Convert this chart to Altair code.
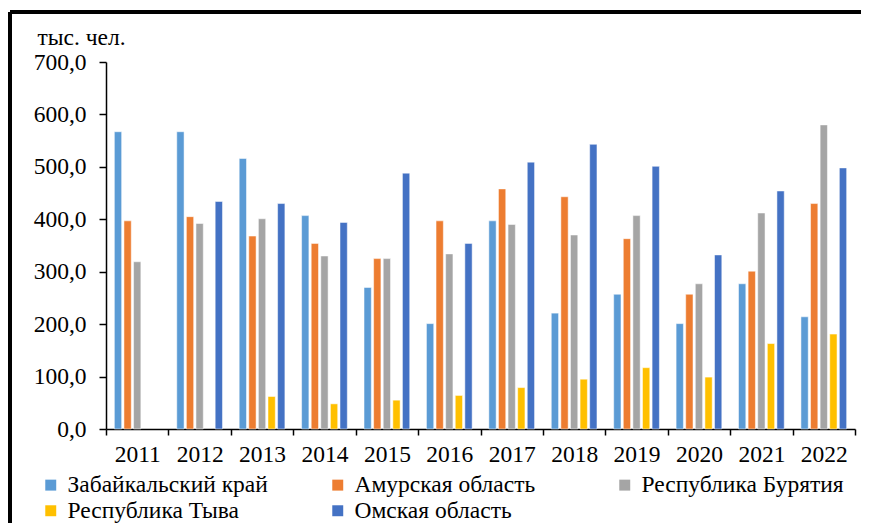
import altair as alt
import pandas as pd

years = ["2011", "2012", "2013", "2014", "2015", "2016", "2017", "2018", "2019", "2020", "2021", "2022"]
series = ["Забайкальский край", "Амурская область", "Республика Бурятия", "Республика Тыва", "Омская область"]
colors = ["#5B9BD5", "#ED7D31", "#A5A5A5", "#FFC000", "#4472C4"]

zab = [567, 567, 516, 407, 270, 201, 397, 221, 257, 201, 277, 214]
amur = [397, 405, 368, 354, 325, 397, 458, 443, 363, 257, 301, 430]
bur = [319, 392, 401, 330, 325, 334, 390, 370, 407, 277, 412, 580]
tyva = [None, None, 62, 48, 55, 64, 79, 95, 117, 99, 163, 181]
omsk = [None, 434, 430, 394, 488, 354, 509, 543, 501, 332, 454, 498]

rows = []
for name, vals in zip(series, [zab, amur, bur, tyva, omsk]):
    for y, v in zip(years, vals):
        if v is not None:
            rows.append({"year": y, "series": name, "value": v})
df = pd.DataFrame(rows)

W, H = 749, 367
FONT = "Liberation Serif"

bars = alt.Chart(df).mark_bar(stroke="white", strokeWidth=0.5).encode(
    x=alt.X("year:N", sort=years,
            scale=alt.Scale(paddingInner=0, paddingOuter=0),
            axis=alt.Axis(title=None, labelAngle=0, tickBand="extent", tickSize=6,
                          tickColor="black", tickWidth=1.5, domainColor="black", domainWidth=1.5,
                          labelFont=FONT, labelFontSize=23.5, labelColor="black", labelPadding=7)),
    xOffset=alt.XOffset("series:N", sort=series,
                        scale=alt.Scale(domain=series, paddingInner=0.24, paddingOuter=0.87)),
    y=alt.Y("value:Q", scale=alt.Scale(domain=[0, 700]),
            axis=alt.Axis(values=[0, 100, 200, 300, 400, 500, 600, 700], grid=False,
                          labelExpr="replace(format(datum.value, '.1f'), '.', ',')",
                          tickSize=7, tickColor="black", tickWidth=1.5,
                          domainColor="black", domainWidth=1.5,
                          labelFont=FONT, labelFontSize=23.5, labelColor="black", labelPadding=13,
                          title="тыс. чел.", titleAngle=0, titleAlign="left", titleBaseline="middle",
                          titleX=-69, titleY=-25, titleFont=FONT, titleFontSize=23.5,
                          titleFontWeight="normal", titleColor="black")),
    color=alt.Color("series:N", sort=series,
                    scale=alt.Scale(domain=series, range=colors),
                    legend=alt.Legend(title=None, orient="none", legendX=-67, legendY=411,
                                      direction="horizontal", gridAlign="all",
                                      columns=3, columnPadding=56, rowPadding=1,
                                      symbolType="square", symbolSize=120, symbolStrokeWidth=0,
                                      labelOffset=5,
                                      labelFont=FONT, labelFontSize=23.5, labelColor="black",
                                      labelLimit=400)),
)

frame_top = alt.Chart(df).mark_rule(color="black", strokeWidth=2.5).encode(
    x=alt.value(-96), x2=alt.value(W + 40), y=alt.value(-50)
)
frame_left = alt.Chart(df).mark_rule(color="black", strokeWidth=2.5).encode(
    x=alt.value(-96), y=alt.value(-50), y2=alt.value(H + 200)
)

chart = alt.layer(bars, frame_top, frame_left).properties(
    width=W, height=H,
    view=alt.ViewBackground(stroke="white", strokeWidth=0, strokeOpacity=0),
    autosize=alt.AutoSizeParams(type="none"),
    padding={"left": 98, "top": 54, "right": 6, "bottom": 94},
).configure(
    background="white", font=FONT,
    view=alt.ViewConfig(stroke="white", strokeWidth=0, strokeOpacity=0),
)

chart.save("out.html", embed_options={"renderer": "svg", "actions": False})
